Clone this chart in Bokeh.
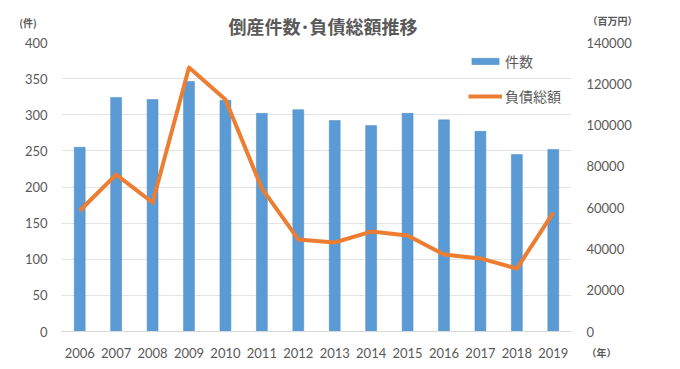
from bokeh.plotting import figure
from bokeh.models import Range1d, LinearAxis, Legend, LegendItem, Label, ColumnDataSource, FixedTicker, NumeralTickFormatter
from bokeh.embed import file_html
from bokeh.resources import INLINE

years = ["2006", "2007", "2008", "2009", "2010", "2011", "2012", "2013",
         "2014", "2015", "2016", "2017", "2018", "2019"]
counts = [255, 324, 321, 346, 320, 302, 307, 292, 285, 302, 293, 277, 245, 252]
debt = [58500, 76000, 62500, 127900, 112400, 69300, 44600, 43100,
        48400, 46500, 37300, 35400, 30500, 57600]
left_ticks = [0, 50, 100, 150, 200, 250, 300, 350, 400]
right_ticks = [0, 20000, 40000, 60000, 80000, 100000, 120000, 140000]

src = ColumnDataSource(dict(year=years, count=counts, debt=debt))

W, H = 672, 361
p = figure(x_range=years, y_range=Range1d(0, 400), width=W, height=H,
           output_backend="svg", toolbar_location=None,
           min_border_left=61, min_border_right=101, min_border_top=42, min_border_bottom=30)
p.extra_y_ranges = {"debt": Range1d(0, 140000)}

CJK = "Noto Sans CJK JP"
NUM = "Lato"
GRAY = "#595959"

p.title.text = "倒産件数･負債総額推移"
p.title.align = "left"
p.title.offset = 167
p.title.standoff = -23
p.title.text_font = CJK
p.title.text_font_size = "18px"
p.title.text_font_style = "bold"
p.title.text_color = "#595959"

p.outline_line_color = None
p.background_fill_color = "white"
p.border_fill_color = "white"

bars = p.vbar(x="year", top="count", width=0.3, source=src,
              fill_color="#5b9bd5", line_color="#4a8ac6", line_width=0.5)
line = p.line(x="year", y="debt", source=src, y_range_name="debt",
              line_color="#ed7d31", line_width=4, line_join="round")

ax = p.yaxis[0]
ax.ticker = FixedTicker(ticks=left_ticks)
ax.axis_line_color = None
ax.major_tick_line_color = None
ax.minor_tick_line_color = None
ax.major_tick_out = 0
ax.minor_tick_out = 0
ax.major_label_text_font = NUM
ax.major_label_text_font_size = "13px"
ax.major_label_text_color = GRAY
ax.major_label_standoff = 14

ra = LinearAxis(y_range_name="debt", ticker=FixedTicker(ticks=right_ticks),
                formatter=NumeralTickFormatter(format="0"))
ra.axis_line_color = None
ra.major_tick_line_color = None
ra.minor_tick_line_color = None
ra.major_tick_out = 0
ra.minor_tick_out = 0
ra.major_label_text_font = NUM
ra.major_label_text_font_size = "13px"
ra.major_label_text_color = GRAY
ra.major_label_standoff = 15
p.add_layout(ra, "right")

xa = p.xaxis[0]
xa.axis_line_color = "#d9d9d9"
xa.major_tick_line_color = None
xa.minor_tick_line_color = None
xa.major_label_text_font = NUM
xa.major_label_text_font_size = "13px"
xa.major_label_text_color = GRAY
xa.major_label_standoff = 10

p.xgrid.grid_line_color = None
p.ygrid.grid_line_color = "#e3e3e3"
p.ygrid.ticker = FixedTicker(ticks=left_ticks)

legend = Legend(items=[LegendItem(label="件数", renderers=[bars]),
                       LegendItem(label="負債総額", renderers=[line])],
                location=(407, 225), border_line_color=None, background_fill_alpha=0,
                label_text_font=CJK, label_text_font_size="14px", label_text_color=GRAY,
                glyph_width=34, glyph_height=8, spacing=15, padding=0, label_standoff=3)
p.add_layout(legend, "center")

for txt, x, y, side, align in [("(件)", 24.5, 309, "left", "center"),
                               ("（年）", -48, -21, "right", "left"),
                               ("（百万円）", 526, 22, "above", "left")]:
    p.add_layout(Label(x=x, y=y, x_units="screen", y_units="screen", text=txt,
                       text_font=CJK, text_font_size="10px", text_color=GRAY,
                       text_font_style="bold", text_baseline="middle", text_align=align), side)

open("out.html", "w").write(file_html(p, INLINE))
